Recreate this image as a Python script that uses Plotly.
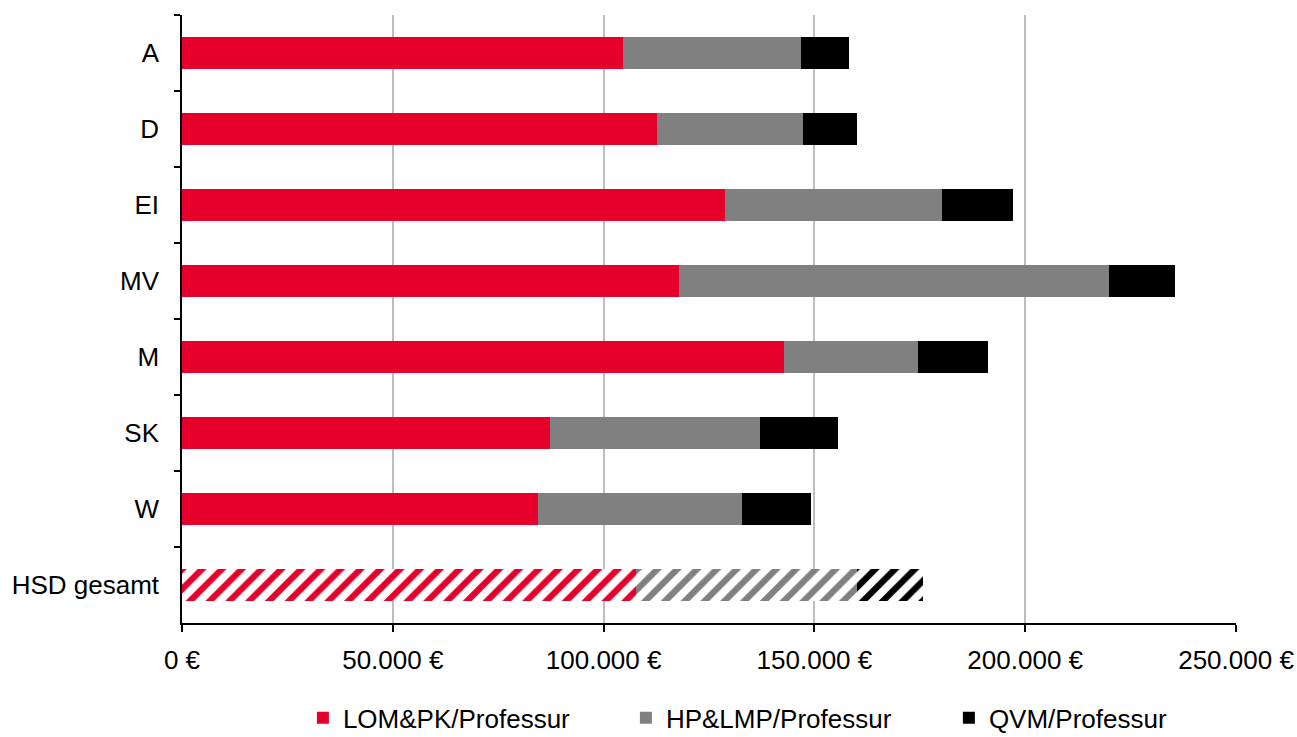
import plotly.graph_objects as go

# Kategorien (Fachbereiche) und Gesamtwert der Hochschule
categories = ["A", "D", "EI", "MV", "M", "SK", "W"]
total_label = "HSD gesamt"

# Mittel je Professur in Euro
lom_pk = [104500, 112600, 128900, 117800, 142700, 87200, 84400]
hp_lmp = [42400, 34800, 51400, 102100, 31900, 50000, 48500]
qvm = [11400, 12600, 16900, 15600, 16600, 18300, 16400]

total_lom_pk = 107800
total_hp_lmp = 52200
total_qvm = 15800

series_names = ["LOM&PK/Professur", "HP&LMP/Professur", "QVM/Professur"]
series_colors = ["#E4002B", "#808080", "#000000"]

x_ticks = [0, 50000, 100000, 150000, 200000, 250000]
x_tick_labels = ["0 €", "50.000 €", "100.000 €", "150.000 €", "200.000 €", "250.000 €"]

fig = go.Figure()

for name, vals, col in zip(series_names, [lom_pk, hp_lmp, qvm], series_colors):
    fig.add_trace(go.Bar(
        y=categories, x=vals, name=name, orientation="h",
        marker=dict(color=col, line=dict(width=0)),
        legendgroup=name,
    ))

# Gesamtwert schraffiert
for name, val, col in zip(series_names, [total_lom_pk, total_hp_lmp, total_qvm], series_colors):
    fig.add_trace(go.Bar(
        y=[total_label], x=[val], name=name, orientation="h",
        marker=dict(color="white", line=dict(width=0),
                    pattern=dict(shape="/", fgcolor=col, bgcolor="white",
                                 size=14, solidity=0.45, fillmode="replace")),
        legendgroup=name, showlegend=False,
    ))

fig.update_layout(
    barmode="stack",
    bargap=0.58,
    width=1297, height=737,
    margin=dict(l=182, r=61, t=15, b=114, autoexpand=False),
    paper_bgcolor="white", plot_bgcolor="white",
    font=dict(family="Liberation Sans, Arial, sans-serif", size=26, color="black"),
    showlegend=True,
    legend=dict(orientation="h", x=0.1147, xanchor="left",
                yref="container", y=0.026, yanchor="middle",
                font=dict(size=26), entrywidth=278, entrywidthmode="pixels",
                itemclick=False),
    xaxis=dict(
        range=[0, 250000], tickvals=x_ticks, ticktext=x_tick_labels,
        tickfont=dict(size=26),
        showgrid=True, gridcolor="#BEBEBE", gridwidth=1.5,
        showline=True, linecolor="black", linewidth=1.5,
        ticks="outside", ticklen=7, tickcolor="black", tickwidth=1.5,
        zeroline=False, ticklabelstandoff=6,
    ),
    yaxis=dict(
        categoryorder="array", categoryarray=categories + [total_label],
        autorange="reversed", tickfont=dict(size=26),
        showline=True, linecolor="black", linewidth=1.5,
        ticks="outside", ticklen=6, tickcolor="black", tickwidth=1.5,
        tickson="boundaries", showgrid=False, ticklabelstandoff=16,
    ),
)

fig.write_html("out.html")
